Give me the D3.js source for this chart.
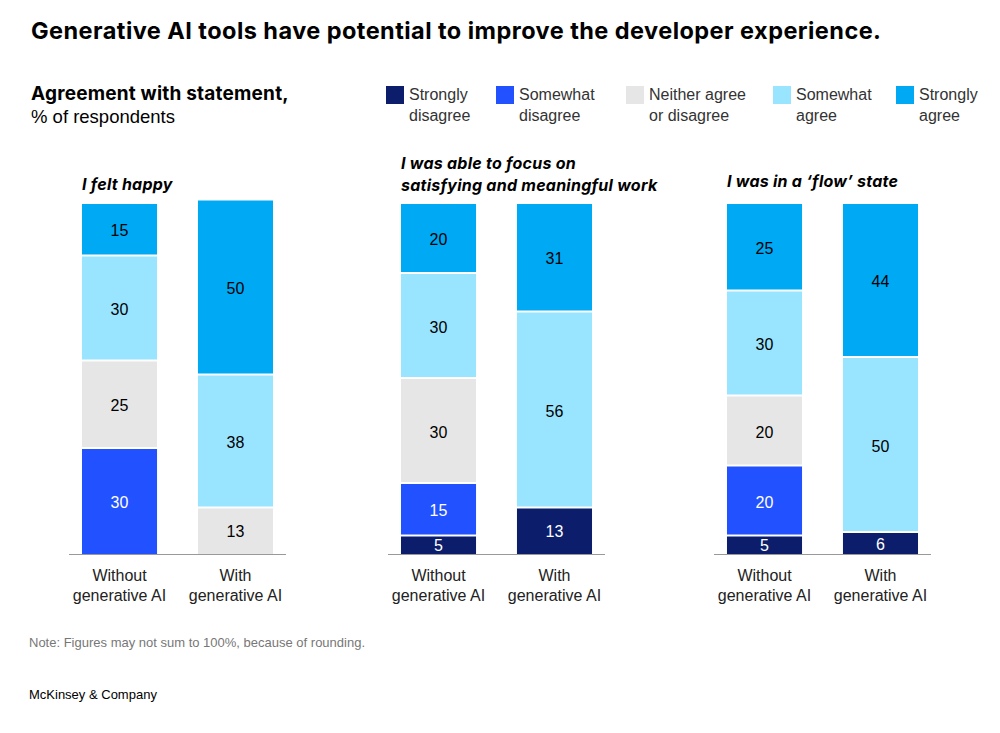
<!DOCTYPE html>
<html>
<head>
<meta charset="utf-8">
<script src="https://cdn.jsdelivr.net/npm/d3@7"></script>
<style>
  body { margin: 0; background: #fff; }
  svg { display: block; font-family: "Liberation Sans", Arial, sans-serif; }
  .bold { font-family: Inter, "Liberation Sans", Arial, sans-serif; font-weight: bold; }
</style>
</head>
<body>
<div id="chart"></div>
<script>
// data
const segments = ["Strongly disagree", "Somewhat disagree", "Neither agree or disagree", "Somewhat agree", "Strongly agree"];
const legendLines = [["Strongly", "disagree"], ["Somewhat", "disagree"], ["Neither agree", "or disagree"], ["Somewhat", "agree"], ["Strongly", "agree"]];
const groups = ["Without generative AI", "With generative AI"];
const panelTitles = [["I felt happy"], ["I was able to focus on", "satisfying and meaningful work"], ["I was in a \u2018flow\u2019 state"]];

// values per group, in order of segments
const happyValues = [[0, 30, 25, 30, 15], [0, 0, 13, 38, 50]];
const focusValues = [[5, 15, 30, 30, 20], [13, 0, 0, 56, 31]];
const flowValues = [[5, 20, 20, 30, 25], [6, 0, 0, 50, 44]];
const panelValues = [happyValues, focusValues, flowValues];

const colours = ["#0b1d6b", "#2251ff", "#e6e6e6", "#99e4ff", "#00a9f4"];
const labelColours = ["#fff", "#fff", "#000", "#000", "#000"];

const width = 1000, height = 733;
const svg = d3.select("#chart").append("svg")
    .attr("width", width)
    .attr("height", height);

svg.append("text")
    .attr("class", "bold")
    .attr("x", 31).attr("y", 39)
    .style("font-size", "23.5px").style("letter-spacing", "0.45px")
    .text("Generative AI tools have potential to improve the developer experience.");

svg.append("text")
    .attr("class", "bold")
    .attr("x", 31).attr("y", 100)
    .style("font-size", "19px").style("letter-spacing", "0.2px")
    .text("Agreement with statement,");
svg.append("text")
    .attr("x", 31).attr("y", 123)
    .style("font-size", "18.5px")
    .text("% of respondents");

// legend
const legendX = [386, 496, 626, 773, 896];
const legend = svg.append("g");
segments.forEach((s, i) => {
    const g = legend.append("g").attr("transform", "translate(" + legendX[i] + ",0)");
    g.append("rect").attr("x", 0).attr("y", 86).attr("width", 18).attr("height", 18).attr("fill", colours[i]);
    g.append("text").attr("x", 23).attr("y", 100)
        .style("font-size", "16px").style("fill", "#333")
        .selectAll("tspan").data(legendLines[i]).join("tspan")
        .attr("x", 23).attr("dy", (d, j) => j ? 21 : 0)
        .text(d => d);
});

const y = d3.scaleLinear().domain([0, 100]).range([554, 204]);
const panelX = [69, 388, 714];
const panelW = 217;
const titleBaseline = [190, 191, 187];

panelValues.forEach((vals, p) => {
    const x = d3.scaleBand().domain(groups)
        .range([panelX[p], panelX[p] + panelW])
        .paddingInner(0.353).paddingOuter(0.112);

    const rows = groups.map((gname, gi) => {
        const r = { group: gname };
        segments.forEach((s, si) => r[s] = vals[gi][si]);
        return r;
    });
    const series = d3.stack().keys(segments)(rows);

    const panel = svg.append("g");

    // title
    const t = panelTitles[p];
    panel.append("text")
        .attr("class", "bold")
        .attr("x", x(groups[0])).attr("y", titleBaseline[p] - (t.length - 1) * 22)
        .style("font-size", "16px").style("font-style", "italic").style("letter-spacing", "0.25px")
        .selectAll("tspan").data(t).join("tspan")
        .attr("x", x(groups[0])).attr("dy", (d, j) => j ? 22 : 0)
        .text(d => d);

    series.forEach((ser, si) => {
        const segs = ser.filter(d => d[1] - d[0] > 0);
        panel.selectAll(null).data(segs).join("rect")
            .attr("x", d => x(d.data.group))
            .attr("width", x.bandwidth())
            .attr("y", d => y(d[1]))
            .attr("height", d => y(d[0]) - y(d[1]) - (d[0] > 0 ? 2 : 0))
            .attr("fill", colours[si]);

        panel.selectAll(null).data(segs).join("text")
            .attr("x", d => x(d.data.group) + x.bandwidth() / 2)
            .attr("y", d => (y(d[0]) + y(d[1])) / 2 + 6)
            .attr("text-anchor", "middle")
            .style("font-size", "16px")
            .style("fill", labelColours[si])
            .text(d => d[1] - d[0]);
    });

    // baseline
    panel.append("line")
        .attr("x1", panelX[p]).attr("x2", panelX[p] + panelW)
        .attr("y1", y(0) + 0.5).attr("y2", y(0) + 0.5)
        .attr("stroke", "#999").attr("stroke-width", 1);

    // category labels
    groups.forEach(gname => {
        const words = gname.startsWith("Without") ? ["Without", "generative AI"] : ["With", "generative AI"];
        panel.append("text")
            .attr("text-anchor", "middle")
            .style("font-size", "16px").style("fill", "#222")
            .selectAll("tspan").data(words).join("tspan")
            .attr("x", x(gname) + x.bandwidth() / 2)
            .attr("y", (d, j) => 581 + j * 20)
            .text(d => d);
    });
});

svg.append("text")
    .attr("x", 29).attr("y", 647)
    .style("font-size", "13px").style("fill", "#777")
    .text("Note: Figures may not sum to 100%, because of rounding.");

svg.append("text")
    .attr("x", 29).attr("y", 699)
    .style("font-size", "13px").style("fill", "#000")
    .text("McKinsey & Company");
</script>
</body>
</html>
